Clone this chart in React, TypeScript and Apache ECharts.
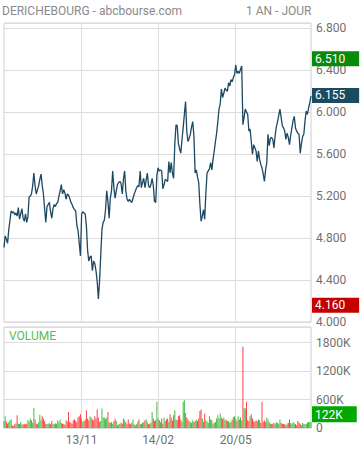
import React, { useEffect, useRef } from "react";
import * as echarts from "echarts";

// ---- Data ----
const START_DATE = "2023-08-14";
const HOLIDAYS = ["2023-12-25", "2023-12-26", "2024-01-01", "2024-03-29", "2024-04-01", "2024-05-01"];
const X_LABEL_DATES = ["2023-11-13", "2024-02-14", "2024-05-20"];

const PRICES = [
  4.71, 4.82, 4.79, 4.75, 4.88, 4.97, 5.06, 5.04, 5.05, 5.02,
  5.04, 5.01, 5.09, 4.98, 5.03, 5.08, 4.99, 4.96, 5.03, 4.95,
  5.0, 5.19, 5.2, 5.22, 5.3, 5.42, 5.3, 5.22, 5.26, 5.3,
  5.36, 5.41, 5.3, 5.22, 5.08, 4.95, 5.1, 5.12, 5.14, 5.05,
  4.99, 5.08, 5.12, 5.1, 5.13, 5.14, 5.2, 5.25, 5.31, 5.22,
  5.26, 5.23, 5.17, 5.22, 5.21, 5.18, 5.14, 5.12, 5.09, 5.07,
  5.06, 4.92, 4.87, 4.75, 4.63, 5.03, 5.05, 5.04, 5.03, 4.91,
  4.68, 4.58, 4.62, 4.63, 4.49, 4.58, 4.56, 4.49, 4.39, 4.22,
  4.39, 4.64, 4.88, 4.95, 4.97, 5.07, 5.25, 5.15, 4.99, 5.18,
  5.25, 5.44, 5.28, 5.18, 5.25, 5.31, 5.33, 5.34, 5.32, 5.22,
  5.36, 5.44, 5.25, 5.17, 5.15, 5.17, 5.15, 5.14, 5.18, 5.22,
  5.25, 5.28, 5.3, 5.29, 5.44, 5.28, 5.33, 5.37, 5.28, 5.35,
  5.42, 5.3, 5.28, 5.31, 5.37, 5.3, 5.15, 5.14, 5.4, 5.47,
  5.44, 5.45, 5.44, 5.27, 5.31, 5.36, 5.35, 5.34, 5.53, 5.42,
  5.52, 5.42, 5.37, 5.7, 5.88, 5.87, 5.7, 5.65, 5.61, 5.74,
  5.85, 5.98, 6.1, 5.82, 5.72, 5.75, 5.79, 5.86, 5.91, 5.77,
  5.42, 5.45, 5.38, 5.33, 5.12, 4.96, 5.01, 5.07, 4.98, 5.23,
  5.42, 5.44, 5.46, 5.52, 5.45, 5.55, 5.63, 5.72, 5.8, 5.91,
  6.03, 6.08, 6.22, 6.14, 6.18, 6.23, 6.21, 6.2, 6.28, 6.25,
  6.31, 6.29, 6.33, 6.36, 6.45, 6.37, 6.39, 6.37, 6.41, 6.44,
  5.88, 5.95, 6.03, 6.0, 5.98, 5.82, 5.84, 5.72, 5.6, 5.69,
  5.66, 5.63, 5.53, 5.63, 5.55, 5.5, 5.47, 5.41, 5.34, 5.45,
  5.52, 5.79, 5.68, 5.75, 5.76, 5.74, 5.66, 5.78, 5.86, 5.91,
  5.97, 6.03, 5.95, 5.87, 5.85, 5.82, 5.74, 5.8, 5.76, 5.69,
  5.78, 5.85, 5.92, 5.96, 5.85, 5.82, 5.8, 5.79, 5.61, 5.7,
  5.77, 5.79, 5.92, 6.01, 5.98, 6.04, 6.09, 6.155,
];

// volumes in thousands of shares
const VOLUMES_K = [
  148, 247, 130, 92, 127, 163, 177, 57, 43, 78,
  95, 269, 92, 85, 127, 70, 80, 92, 75, 88,
  163, 140, 198, 163, 110, 424, 177, 92, 78, 120,
  282, 163, 247, 198, 150, 92, 85, 92, 100, 80,
  148, 92, 80, 95, 88, 163, 120, 177, 106, 92,
  85, 70, 163, 130, 339, 127, 110, 92, 163, 177,
  148, 120, 219, 247, 290, 200, 127, 150, 177, 374,
  198, 160, 247, 219, 180, 163, 247, 200, 389, 219,
  127, 150, 410, 219, 219, 190, 219, 339, 120, 106,
  127, 92, 140, 198, 148, 57, 80, 92, 110, 92,
  198, 163, 120, 78, 177, 95, 78, 106, 177, 80,
  57, 78, 130, 177, 78, 92, 110, 127, 163, 177,
  120, 78, 92, 110, 339, 198, 150, 163, 551, 198,
  163, 120, 198, 92, 219, 150, 177, 198, 130, 290,
  219, 160, 269, 375, 177, 163, 247, 269, 180, 127,
  551, 587, 318, 219, 177, 140, 127, 106, 163, 127,
  140, 177, 148, 200, 360, 389, 198, 127, 304, 163,
  130, 106, 247, 180, 163, 92, 110, 127, 198, 269,
  198, 304, 219, 190, 219, 163, 177, 140, 148, 106,
  130, 177, 233, 247, 198, 150, 247, 180, 219, 160,
  1717, 424, 410, 551, 163, 140, 247, 290, 198, 150,
  127, 163, 140, 177, 163, 106, 551, 130, 163, 127,
  219, 177, 120, 92, 85, 92, 110, 78, 127, 106,
  90, 177, 106, 92, 85, 78, 57, 90, 106, 177,
  106, 92, 127, 100, 78, 57, 148, 110, 92, 57,
  106, 85, 78, 92, 110, 127, 127, 122,
];

const HIGH_52W = 6.51;
const LOW_52W = 4.16;
const LAST_PRICE = 6.155;
const LAST_VOLUME_K = 122;

const Y_PRICE_MIN = 4.0;
const Y_PRICE_MAX = 6.85;
const Y_PRICE_STEP = 0.4;
const Y_VOL_MAX = 2130000;
const Y_VOL_STEP = 600000;

// ---- trading-day categories ----
function buildDates(start: string, count: number): string[] {
  const out: string[] = [];
  const d = new Date(start + "T00:00:00Z");
  while (out.length < count) {
    const iso = d.toISOString().slice(0, 10);
    const wd = d.getUTCDay();
    if (wd !== 0 && wd !== 6 && !HOLIDAYS.includes(iso)) out.push(iso);
    d.setUTCDate(d.getUTCDate() + 1);
  }
  return out;
}

const DATES = buildDates(START_DATE, PRICES.length);
const VOLUMES = VOLUMES_K.map((v) => v * 1000);

const FONT = "Roboto";
const GREEN_BAR = "#44bb3f";
const RED_BAR = "#ff4040";

export default function App() {
  const ref = useRef<HTMLDivElement>(null);

  useEffect(() => {
    if (!ref.current) return;
    const chart = echarts.init(ref.current, undefined, { renderer: "svg" });
    const isLabelIdx = (idx: number) => X_LABEL_DATES.includes(DATES[idx]);
    const fmtDate = (v: string) => v.slice(8, 10) + "/" + v.slice(5, 7);

    const boxLabel = (bg: string, text: string) => ({
      show: true,
      position: "end",
      distance: 1,
      formatter: text,
      color: "#ffffff",
      opacity: 1,
      backgroundColor: bg,
      fontFamily: FONT,
      fontSize: 12,
      lineHeight: 13,
      padding: [1, 14, 1, 3],
    });
    const hiddenLine = { color: "rgba(0,0,0,0)", width: 0, opacity: 1 };

    chart.setOption({
      animation: false,
      textStyle: { fontFamily: FONT },
      title: [
        {
          text: "DERICHEBOURG - abcbourse.com",
          left: 2,
          top: 5,
          padding: 0,
          textStyle: { fontSize: 12, fontWeight: "normal", color: "#8a8a8a", fontFamily: FONT },
        },
        {
          text: "1 AN - JOUR",
          left: 246,
          top: 5,
          padding: 0,
          textStyle: { fontSize: 12, fontWeight: "normal", color: "#8a8a8a", fontFamily: FONT },
        },
        {
          text: "VOLUME",
          left: 9,
          top: 330,
          padding: 0,
          textStyle: { fontSize: 12, fontWeight: "normal", color: "#55c04f", fontFamily: FONT },
        },
      ],
      grid: [
        { left: 4, top: 23, width: 307, height: 299, show: true, borderColor: "#cfcfcf", borderWidth: 1 },
        { left: 4, top: 327, width: 307, height: 101, show: true, borderColor: "#cfcfcf", borderWidth: 1 },
      ],
      xAxis: [
        {
          type: "category",
          gridIndex: 0,
          data: DATES,
          boundaryGap: false,
          axisLine: { show: false },
          axisTick: { show: false },
          axisLabel: { show: false },
          splitLine: { show: true, interval: (i: number) => isLabelIdx(i), lineStyle: { color: "#dddddd", width: 1 } },
        },
        {
          type: "category",
          gridIndex: 1,
          data: DATES,
          boundaryGap: false,
          axisLine: { show: false },
          axisTick: { show: false },
          axisLabel: {
            show: true,
            interval: (i: number) => isLabelIdx(i),
            formatter: fmtDate,
            color: "#707070",
            fontSize: 12,
            fontFamily: FONT,
            margin: 6,
          },
          splitLine: { show: true, interval: (i: number) => isLabelIdx(i), lineStyle: { color: "#dddddd", width: 1 } },
        },
      ],
      yAxis: [
        {
          type: "value",
          gridIndex: 0,
          position: "right",
          min: Y_PRICE_MIN,
          max: Y_PRICE_MAX,
          interval: Y_PRICE_STEP,
          axisLine: { show: false },
          axisTick: { show: false },
          axisLabel: {
            showMaxLabel: false,
            formatter: (v: number) => v.toFixed(3),
            color: "#707070",
            fontSize: 12,
            fontFamily: FONT,
            margin: 5,
          },
          splitLine: { lineStyle: { color: "#dddddd", width: 1 } },
        },
        {
          type: "value",
          gridIndex: 1,
          position: "right",
          min: 0,
          max: Y_VOL_MAX,
          interval: Y_VOL_STEP,
          axisLine: { show: false },
          axisTick: { show: false },
          axisLabel: {
            showMaxLabel: false,
            formatter: (v: number) => (v === 0 ? "0" : v / 1000 + "K"),
            color: "#707070",
            fontSize: 12,
            fontFamily: FONT,
            margin: 5,
          },
          splitLine: { lineStyle: { color: "#dddddd", width: 1 } },
        },
      ],
      series: [
        {
          type: "line",
          xAxisIndex: 0,
          yAxisIndex: 0,
          data: PRICES,
          showSymbol: false,
          clip: false,
          z: 3,
          lineStyle: { color: "#1d4862", width: 1.3 },
          markLine: {
            silent: true,
            symbol: "none",
            z: 10,
            lineStyle: hiddenLine,
            data: [
              { yAxis: HIGH_52W, lineStyle: hiddenLine, label: boxLabel("#0a8a0a", HIGH_52W.toFixed(3)) },
              { yAxis: LAST_PRICE, lineStyle: hiddenLine, label: boxLabel("#1b4a63", LAST_PRICE.toFixed(3)) },
              { yAxis: LOW_52W, lineStyle: hiddenLine, label: boxLabel("#c40000", LOW_52W.toFixed(3)) },
            ],
          },
        },
        {
          type: "bar",
          xAxisIndex: 1,
          yAxisIndex: 1,
          data: VOLUMES,
          barWidth: 1,
          clip: false,
          itemStyle: {
            color: (p: any) => {
              const i = p.dataIndex;
              return i === 0 || PRICES[i] >= PRICES[i - 1] ? GREEN_BAR : RED_BAR;
            },
          },
          markLine: {
            silent: true,
            symbol: "none",
            z: 10,
            lineStyle: hiddenLine,
            data: [
              {
                yAxis: LAST_VOLUME_K * 1000,
                lineStyle: hiddenLine,
                label: { ...boxLabel("#00a800", LAST_VOLUME_K + "K"), verticalAlign: "bottom", padding: [2, 14, 1, 3] },
              },
            ],
          },
        },
      ],
    });
    return () => chart.dispose();
  }, []);

  return (
    <div
      ref={ref}
      style={{ position: "fixed", left: 0, top: 0, width: 360, height: 450, background: "#ffffff" }}
    />
  );
}
